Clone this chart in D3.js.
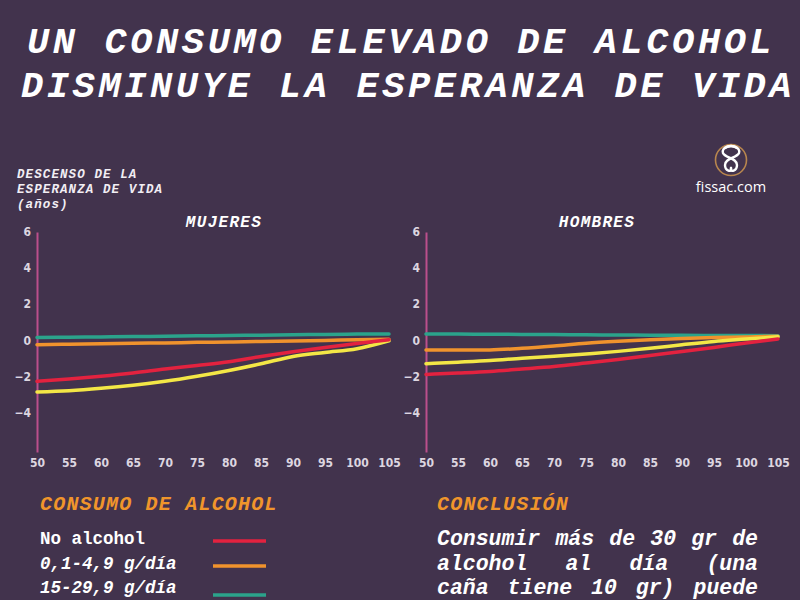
<!DOCTYPE html>
<html>
<head>
<meta charset="utf-8">
<script src="https://cdn.jsdelivr.net/npm/d3@7"></script>
<style>
  html, body { margin: 0; padding: 0; background: #42334d; }
  svg { display: block; }
</style>
</head>
<body>
<svg id="chart" width="800" height="600"></svg>
<script>
// ---- data ----
const ages = [50, 55, 60, 65, 70, 75, 80, 85, 90, 95, 100, 105];
const yTicks = [-4, -2, 0, 2, 4, 6];
const seriesNames = ["No alcohol", "0,1-4,9 g/día", "15-29,9 g/día", "≥30 g/día"];
const seriesColors = ["#e3223f", "#f0932d", "#2ba38b", "#f3e746"];

// MUJERES
const mujNoAlcohol = [-2.28, -2.15, -2.0, -1.82, -1.6, -1.4, -1.19, -0.9, -0.64, -0.4, -0.18, 0.03];
const mujLow      = [-0.25, -0.22, -0.2, -0.17, -0.15, -0.12, -0.1, -0.07, -0.04, -0.01, 0.02, 0.05];
const mujMid      = [0.15, 0.17, 0.18, 0.2, 0.22, 0.24, 0.26, 0.28, 0.3, 0.32, 0.34, 0.35];
const mujHigh     = [-2.87, -2.8, -2.67, -2.5, -2.28, -2.0, -1.68, -1.31, -0.9, -0.68, -0.47, -0.03];

// HOMBRES
const homNoAlcohol = [-1.9, -1.82, -1.73, -1.6, -1.46, -1.27, -1.07, -0.85, -0.63, -0.4, -0.15, 0.07];
const homLow      = [-0.54, -0.55, -0.54, -0.45, -0.32, -0.17, -0.06, 0.03, 0.1, 0.15, 0.18, 0.22];
const homMid      = [0.35, 0.34, 0.33, 0.32, 0.31, 0.3, 0.29, 0.28, 0.27, 0.26, 0.26, 0.25];
const homHigh     = [-1.3, -1.22, -1.13, -1.0, -0.89, -0.76, -0.62, -0.45, -0.25, -0.07, 0.06, 0.19];

const titleLines = ["UN CONSUMO ELEVADO DE ALCOHOL", "DISMINUYE LA ESPERANZA DE VIDA"];
const yTitleLines = ["DESCENSO DE LA", "ESPERANZA DE VIDA", "(años)"];
const panelTitles = ["MUJERES", "HOMBRES"];
const legendTitle = "CONSUMO DE ALCOHOL";
const conclusionTitle = "CONCLUSIÓN";
const conclusionLines = ["Consumir más de 30 gr de", "alcohol al día (una", "caña tiene 10 gr) puede"];

// ---- drawing ----
const svg = d3.select("#chart");
const mono = "'Liberation Mono', 'Courier New', monospace";
const narrow = "'Liberation Sans Narrow', 'DejaVu Sans Condensed', 'Liberation Sans', sans-serif";
const orange = "#f0952b";

svg.append("rect").attr("width", 800).attr("height", 600).attr("fill", "#42334d");

// title
const titleX = [27, 21];
titleLines.forEach((t, i) => {
  svg.append("text")
    .attr("x", titleX[i]).attr("y", 53 + i * 44)
    .attr("font-family", mono).attr("font-weight", "bold").attr("font-style", "italic")
    .attr("font-size", 37).attr("letter-spacing", 3.6)
    .attr("fill", "#ffffff")
    .text(t);
});

// y title
yTitleLines.forEach((t, i) => {
  svg.append("text")
    .attr("x", 17).attr("y", 178 + i * 15)
    .attr("font-family", mono).attr("font-weight", "bold").attr("font-style", "italic")
    .attr("font-size", 12.5).attr("letter-spacing", 1.1)
    .attr("fill", "#f2eef4")
    .text(t);
});

// logo
const logo = svg.append("g");
logo.append("circle").attr("cx", 731).attr("cy", 160).attr("r", 15.5)
  .attr("fill", "none").attr("stroke", "#b8864e").attr("stroke-width", 1.6);
logo.append("path")
  .attr("d", "M737,148 C731,144 721,147 723,153 C725,158 737,158 737,165 C737,171 730,173 731,168")
  .attr("fill", "none").attr("stroke", "#fff").attr("stroke-width", 2.4).attr("stroke-linecap", "round");
logo.append("path")
  .attr("d", "M725,148 C731,144 741,147 739,153 C737,158 725,158 725,165 C725,171 732,173 731,168")
  .attr("fill", "none").attr("stroke", "#fff").attr("stroke-width", 2.4).attr("stroke-linecap", "round");
logo.append("text").attr("x", 731).attr("y", 192).attr("text-anchor", "middle")
  .attr("font-family", "'Open Sans', 'Noto Sans', sans-serif").attr("font-size", 14.5)
  .attr("fill", "#ffffff").text("fissac.com");

// panels
const panels = [
  { title: panelTitles[0], titleX: 224, x0: 37, x1: 389, data: [mujMid, mujLow, mujHigh, mujNoAlcohol], colorIdx: [2, 1, 3, 0] },
  { title: panelTitles[1], titleX: 597, x0: 426, x1: 778, data: [homMid, homLow, homHigh, homNoAlcohol], colorIdx: [2, 1, 3, 0] }
];

const y = d3.scaleLinear().domain([-6.2, 6]).range([452, 232]);

panels.forEach(p => {
  const x = d3.scaleLinear().domain([50, 105]).range([p.x0, p.x1]);
  const g = svg.append("g");

  g.append("text").attr("x", p.titleX).attr("y", 227).attr("text-anchor", "middle")
    .attr("font-family", mono).attr("font-weight", "bold").attr("font-style", "italic")
    .attr("font-size", 16).attr("letter-spacing", 1.3).attr("fill", "#ffffff")
    .text(p.title);

  // y axis
  const ya = g.append("g").attr("transform", `translate(${p.x0},0)`)
    .call(d3.axisLeft(y).tickValues(yTicks).tickSize(0).tickSizeOuter(0).tickPadding(6));
  ya.select(".domain").attr("stroke", "#bb4f8c").attr("stroke-width", 2);
  ya.selectAll("text").attr("font-family", narrow).attr("font-weight", "bold")
    .attr("font-size", 12).attr("fill", "#ddd6e0");

  // x axis
  const xa = g.append("g").attr("transform", `translate(0,452)`)
    .call(d3.axisBottom(x).tickValues(ages).tickSize(0).tickPadding(6.5));
  xa.select(".domain").remove();
  xa.selectAll("text").attr("font-family", narrow).attr("font-weight", "bold")
    .attr("font-size", 12).attr("fill", "#ddd6e0");

  const line = d3.line().x((d, i) => x(ages[i])).y(d => y(d)).curve(d3.curveMonotoneX);
  p.data.forEach((s, k) => {
    g.append("path").datum(s).attr("d", line)
      .attr("fill", "none").attr("stroke", seriesColors[p.colorIdx[k]])
      .attr("stroke-width", 3.5).attr("stroke-linecap", "round");
  });
});

// legend
svg.append("text").attr("x", 40).attr("y", 510)
  .attr("font-family", mono).attr("font-weight", "bold").attr("font-style", "italic")
  .attr("font-size", 20).attr("letter-spacing", 1.2).attr("fill", orange)
  .text(legendTitle);

const legendY = [544, 569, 593];
const lineY = [541, 566, 595];
const legendItalic = ["normal", "italic", "italic"];
[0, 1, 2].forEach(i => {
  svg.append("text").attr("x", 40).attr("y", legendY[i])
    .attr("font-family", mono).attr("font-weight", "bold").attr("font-style", legendItalic[i])
    .attr("font-size", 17.5).attr("fill", "#ffffff")
    .text(seriesNames[i]);
  svg.append("line").attr("x1", 213).attr("x2", 266).attr("y1", lineY[i]).attr("y2", lineY[i])
    .attr("stroke", seriesColors[i]).attr("stroke-width", 3.5);
});

// conclusion
svg.append("text").attr("x", 437).attr("y", 510)
  .attr("font-family", mono).attr("font-weight", "bold").attr("font-style", "italic")
  .attr("font-size", 20).attr("letter-spacing", 1.2).attr("fill", orange)
  .text(conclusionTitle);

const concLeft = 437, concRight = 758;
conclusionLines.forEach((t, i) => {
  const txt = svg.append("text").attr("x", concLeft).attr("y", 545 + i * 24.5)
    .attr("font-family", mono).attr("font-weight", "bold").attr("font-style", "italic")
    .attr("font-size", 21.5).attr("fill", "#ffffff")
    .text(t);
  const w = txt.node().getComputedTextLength();
  const spaces = (t.match(/ /g) || []).length;
  if (spaces > 0) txt.attr("word-spacing", (concRight - concLeft - w) / spaces);
});
</script>
</body>
</html>
